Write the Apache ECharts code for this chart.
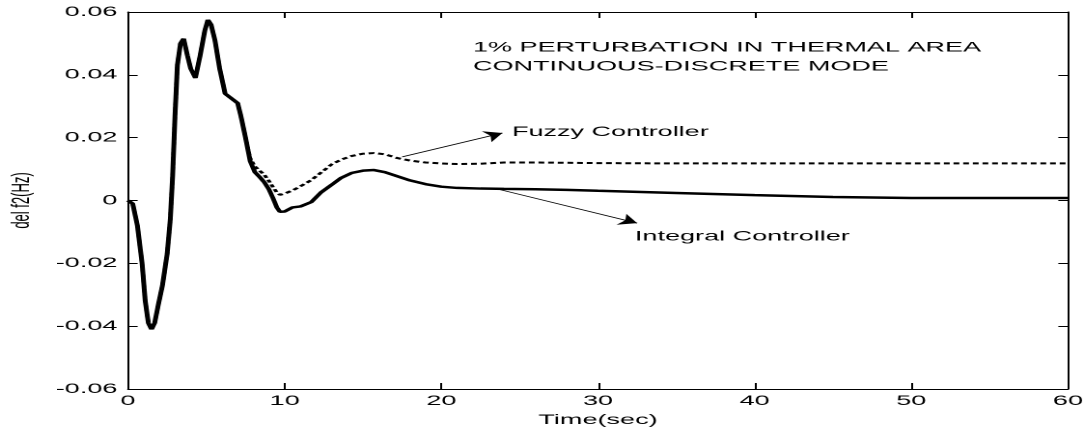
<!DOCTYPE html>
<html>
<head>
<meta charset="utf-8">
<script src="https://cdn.jsdelivr.net/npm/echarts@6/dist/echarts.min.js"></script>
<style>
  html, body { margin: 0; padding: 0; background: #fff; overflow: hidden; }
  /* the reference is an old figure stretched sideways, so draw narrow and stretch */
  #main { width: 561px; height: 434px; transform: scaleX(1.9305); transform-origin: 0 0; }
</style>
</head>
<body>
<div id="main"></div>
<script>
// time axis (sec)
var time = [0, 0.3, 0.6, 0.9, 1.1, 1.3, 1.5, 1.7, 1.9, 2.2, 2.5, 2.7, 2.85, 3.0, 3.15, 3.35, 3.55, 3.8, 4.0, 4.3,
            4.6, 4.9, 5.1, 5.3, 5.55, 5.85, 6.2, 6.6, 7.0, 7.2, 7.5, 7.8, 8.1, 8.4, 8.7, 9.0, 9.25, 9.5, 9.7, 10.0,
            10.5, 11.0, 11.7, 12.3, 13.0, 13.6, 14.3, 15.0, 15.7, 16.4, 17.2, 18.0, 19.0, 20.0, 21.0, 22.5, 24, 26, 28, 30,
            35, 40, 45, 50, 55, 60];

// del f2 with integral controller (solid)
var integral = [0, -0.001, -0.008, -0.02, -0.032, -0.039, -0.041, -0.039, -0.034, -0.027, -0.017, -0.006, 0.008, 0.027, 0.043, 0.050, 0.0515, 0.046, 0.042, 0.039,
                0.046, 0.054, 0.0575, 0.056, 0.051, 0.042, 0.034, 0.0325, 0.031, 0.027, 0.020, 0.0125, 0.009, 0.0075, 0.0058, 0.0035, 0.0008, -0.0022, -0.0036, -0.0035,
                -0.0022, -0.0019, -0.0005, 0.0025, 0.005, 0.0072, 0.0088, 0.0095, 0.0097, 0.009, 0.0077, 0.0064, 0.0052, 0.0044, 0.004, 0.0038, 0.0037, 0.0036, 0.0034, 0.0031,
                0.0024, 0.0017, 0.0011, 0.0008, 0.0008, 0.0008];

// del f2 with fuzzy controller (dotted)
var fuzzy = [0, -0.001, -0.008, -0.02, -0.032, -0.039, -0.041, -0.039, -0.034, -0.027, -0.017, -0.006, 0.008, 0.027, 0.043, 0.050, 0.0515, 0.046, 0.042, 0.039,
             0.046, 0.054, 0.0575, 0.056, 0.051, 0.042, 0.034, 0.0325, 0.031, 0.027, 0.020, 0.0135, 0.0108, 0.0095, 0.0082, 0.0062, 0.0043, 0.0026, 0.0018, 0.0022,
             0.0032, 0.0045, 0.0065, 0.0088, 0.0115, 0.013, 0.0142, 0.0149, 0.0151, 0.0147, 0.0135, 0.0127, 0.0121, 0.0118, 0.0116, 0.0117, 0.0121, 0.0121, 0.012, 0.0119,
             0.0118, 0.0118, 0.0118, 0.0118, 0.0118, 0.0118];

var xTicks = [0, 10, 20, 30, 40, 50, 60];
var yTicks = [-0.06, -0.04, -0.02, 0, 0.02, 0.04, 0.06];

// annotation arrows: [from, to] in data coords
var fuzzyArrow = [[17.5, 0.0139], [23.9, 0.0215]];
var integralArrow = [[23.3, 0.0040], [32.5, -0.0072]];

var font = "'Liberation Sans', Arial, sans-serif";

function pairs(xs, ys) {
    return xs.map(function (x, i) { return [x, ys[i]]; });
}

var boxAxis = {
    axisLine: { show: true, onZero: false, lineStyle: { color: '#000', width: 1 } },
    splitLine: { show: false }
};

var myChart = echarts.init(document.getElementById('main'), null, { devicePixelRatio: 2 });

var option = {
    animation: false,
    backgroundColor: '#fff',
    grid: { left: 66.3, right: 7.8, top: 12, bottom: 45, containLabel: false, outerBoundsMode: 'none' },
    xAxis: [
        echarts.util.merge({
            type: 'value', position: 'bottom',
            min: xTicks[0], max: xTicks[xTicks.length - 1], interval: xTicks[1] - xTicks[0],
            axisTick: { inside: true, length: 6, lineStyle: { color: '#000' } },
            axisLabel: { color: '#000', fontSize: 14, fontFamily: font, margin: 5 },
            name: 'Time(sec)', nameLocation: 'middle', nameGap: 23,
            nameTextStyle: { color: '#000', fontSize: 14, fontFamily: font }
        }, boxAxis),
        echarts.util.merge({
            type: 'value', position: 'top',
            min: xTicks[0], max: xTicks[xTicks.length - 1], interval: xTicks[1] - xTicks[0],
            axisTick: { inside: true, length: 6, lineStyle: { color: '#000' } },
            axisLabel: { show: false }
        }, boxAxis)
    ],
    yAxis: [
        echarts.util.merge({
            type: 'value', position: 'left',
            min: yTicks[0], max: yTicks[yTicks.length - 1], interval: 0.02,
            axisTick: { inside: true, length: 5, lineStyle: { color: '#000' } },
            axisLabel: {
                color: '#000', fontSize: 14, fontFamily: font, margin: 5.5,
                formatter: function (v) { return Math.abs(v) < 1e-9 ? '0' : v.toFixed(2); }
            },
            name: 'del f2(Hz)', nameLocation: 'middle', nameGap: 46,
            nameTextStyle: { color: '#000', fontSize: 13, fontFamily: font }
        }, boxAxis),
        echarts.util.merge({
            type: 'value', position: 'right',
            min: yTicks[0], max: yTicks[yTicks.length - 1], interval: 0.02,
            axisTick: { inside: true, length: 5, lineStyle: { color: '#000' } },
            axisLabel: { show: false }
        }, boxAxis)
    ],
    series: [
        {
            name: 'Fuzzy Controller',
            type: 'line',
            data: pairs(time, fuzzy),
            showSymbol: false,
            lineStyle: { color: '#000', width: 2, type: [3, 2] },
            z: 2
        },
        {
            name: 'Integral Controller',
            type: 'line',
            data: pairs(time, integral),
            showSymbol: false,
            lineStyle: { color: '#000', width: 2.5 },
            z: 3,
            markLine: {
                silent: true,
                symbol: ['none', 'arrow'],
                symbolSize: 9,
                label: { show: false },
                lineStyle: { color: '#000', width: 0.8, type: 'solid' },
                emphasis: { disabled: true },
                data: [
                    [{ coord: fuzzyArrow[0] }, { coord: fuzzyArrow[1] }],
                    [{ coord: integralArrow[0] }, { coord: integralArrow[1] }]
                ]
            }
        }
    ],
    graphic: [
        { type: 'text', left: 245.0, top: 40.5, style: { text: '1% PERTURBATION IN THERMAL AREA', fill: '#000', font: '14px ' + font } },
        { type: 'text', left: 245.0, top: 59.5, style: { text: 'CONTINUOUS-DISCRETE MODE', fill: '#000', font: '14px ' + font } },
        { type: 'text', left: 265.2, top: 125, style: { text: 'Fuzzy Controller', fill: '#000', font: '14px ' + font } },
        { type: 'text', left: 328.9, top: 229.5, style: { text: 'Integral Controller', fill: '#000', font: '14px ' + font } }
    ]
};

myChart.setOption(option);
</script>
</body>
</html>
